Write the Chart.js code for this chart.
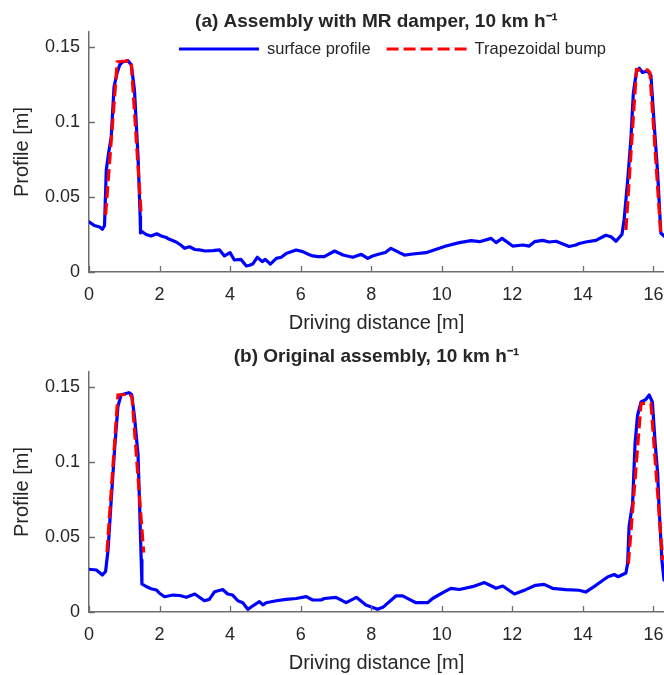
<!DOCTYPE html>
<html>
<head>
<meta charset="utf-8">
<script src="https://cdn.jsdelivr.net/npm/chart.js@4"></script>
<style>
  html, body { margin: 0; padding: 0; background: #ffffff; }
  body { width: 664px; height: 675px; overflow: hidden; position: relative; }
  canvas { position: absolute; left: 0; }
</style>
</head>
<body>
<canvas id="chartA" width="664" height="338" style="top:0px"></canvas>
<canvas id="chartB" width="664" height="337" style="top:338px"></canvas>
<script>
// ---------- texts ----------
const titleA = '(a) Assembly with MR damper, 10 km h\u207B\u00B9';
const titleB = '(b) Original assembly, 10 km h\u207B\u00B9';
const seriesNames = ['surface profile', 'Trapezoidal bump'];
const xLabel = 'Driving distance [m]';
const yLabel = 'Profile [m]';

// ---------- ticks ----------
const xTicks = [0, 2, 4, 6, 8, 10, 12, 14, 16];
const xTickLabels = ['0', '2', '4', '6', '8', '10', '12', '14', '16'];
const yTicks = [0, 0.05, 0.1, 0.15];
const yTickLabels = ['0', '0.05', '0.1', '0.15'];
const xMin = 0, xMax = 16.3, yMin = 0, yMax = 0.16;

// ---------- (a) Assembly with MR damper ----------
const profileA_x = [0, 0.15, 0.3, 0.38, 0.44, 0.49, 0.56, 0.63, 0.71, 0.80, 0.87, 0.95, 1.03, 1.10, 1.20, 1.29, 1.39, 1.45, 1.46, 1.50, 1.62, 1.76, 1.92, 2.05, 2.19, 2.28, 2.47, 2.6, 2.71, 2.85, 3.0, 3.13, 3.3, 3.51, 3.70, 3.84, 4.0, 4.12, 4.31, 4.46, 4.55, 4.64, 4.77, 4.91, 5.0, 5.14, 5.31, 5.45, 5.59, 5.87, 6.06, 6.2, 6.34, 6.5, 6.67, 6.96, 7.2, 7.48, 7.72, 7.90, 8.04, 8.23, 8.4, 8.56, 8.8, 8.94, 9.18, 9.55, 9.93, 10.12, 10.5, 10.83, 11.07, 11.40, 11.54, 11.71, 12.01, 12.3, 12.48, 12.63, 12.86, 13.05, 13.24, 13.61, 13.8, 13.9, 14.08, 14.37, 14.65, 14.80, 14.94, 15.11, 15.17, 15.27, 15.36, 15.43, 15.52, 15.6, 15.69, 15.83, 15.93, 16.02, 16.12, 16.21, 16.3];
const profileA_y = [0.0335, 0.031, 0.030, 0.0285, 0.031, 0.068, 0.080, 0.090, 0.1235, 0.133, 0.138, 0.140, 0.1405, 0.141, 0.138, 0.121, 0.077, 0.037, 0.026, 0.027, 0.025, 0.024, 0.0255, 0.024, 0.023, 0.0218, 0.020, 0.018, 0.0158, 0.0168, 0.015, 0.0147, 0.014, 0.0142, 0.0147, 0.0107, 0.0129, 0.008, 0.0084, 0.004, 0.0045, 0.0053, 0.0098, 0.0069, 0.0084, 0.0053, 0.0091, 0.0098, 0.0124, 0.0147, 0.0136, 0.012, 0.0107, 0.0103, 0.0102, 0.014, 0.0113, 0.0098, 0.0118, 0.0091, 0.0107, 0.012, 0.013, 0.0158, 0.0129, 0.0113, 0.012, 0.0129, 0.0158, 0.0173, 0.0196, 0.0209, 0.0202, 0.0224, 0.0196, 0.0224, 0.0173, 0.018, 0.0173, 0.0202, 0.0211, 0.020, 0.0205, 0.0170, 0.018, 0.019, 0.0200, 0.0211, 0.0245, 0.0235, 0.0205, 0.0252, 0.035, 0.061, 0.088, 0.119, 0.1336, 0.1358, 0.133, 0.134, 0.131, 0.099, 0.066, 0.026, 0.024];
const bumpA_x = [0.47, 0.80, 0.95, 1.05, 1.15, 1.20, 1.48, 8.0, 15.22, 15.52, 15.65, 15.83, 15.90, 16.21];
const bumpA_y = [0.038, 0.140, 0.1405, 0.1405, 0.1413, 0.139, 0.038, null, 0.028, 0.135, 0.1345, 0.1347, 0.133, 0.0247];

// ---------- (b) Original assembly ----------
const profileB_x = [0, 0.21, 0.38, 0.47, 0.54, 0.63, 0.73, 0.82, 0.91, 1.02, 1.13, 1.21, 1.29, 1.39, 1.43, 1.48, 1.50, 1.62, 1.76, 1.91, 2.0, 2.14, 2.38, 2.57, 2.76, 3.0, 3.27, 3.41, 3.56, 3.79, 3.93, 4.07, 4.22, 4.36, 4.50, 4.64, 4.83, 4.93, 5.02, 5.31, 5.59, 5.87, 6.16, 6.34, 6.58, 6.67, 7.0, 7.29, 7.58, 7.85, 8.18, 8.33, 8.70, 8.89, 9.08, 9.27, 9.60, 9.74, 10.03, 10.26, 10.5, 10.87, 11.21, 11.35, 11.54, 11.73, 12.06, 12.38, 12.66, 12.9, 13.14, 13.51, 13.89, 14.08, 14.37, 14.70, 14.89, 15.0, 15.22, 15.27, 15.31, 15.41, 15.48, 15.55, 15.65, 15.79, 15.88, 15.97, 16.05, 16.12, 16.16, 16.24, 16.3];
const profileB_y = [0.0285, 0.028, 0.0247, 0.027, 0.0413, 0.0747, 0.110, 0.137, 0.1447, 0.1455, 0.1462, 0.145, 0.130, 0.105, 0.0747, 0.0347, 0.0187, 0.017, 0.0155, 0.0147, 0.0125, 0.0102, 0.0113, 0.0110, 0.0098, 0.012, 0.0075, 0.0084, 0.0135, 0.015, 0.012, 0.0113, 0.0075, 0.0062, 0.0018, 0.004, 0.0069, 0.0047, 0.0062, 0.0075, 0.0084, 0.009, 0.0102, 0.008, 0.008, 0.009, 0.0098, 0.0062, 0.0098, 0.0047, 0.0018, 0.0031, 0.0107, 0.0107, 0.0084, 0.0062, 0.0062, 0.009, 0.0129, 0.0158, 0.015, 0.0169, 0.0196, 0.018, 0.0158, 0.0173, 0.012, 0.0149, 0.0178, 0.0184, 0.0158, 0.0149, 0.0145, 0.0133, 0.0178, 0.0233, 0.025, 0.0235, 0.026, 0.0325, 0.057, 0.0724, 0.1124, 0.131, 0.140, 0.1418, 0.1447, 0.140, 0.1124, 0.0924, 0.070, 0.0347, 0.0213];
const bumpB_x = [0.51, 0.82, 1.0, 1.15, 1.22, 1.55, 8.0, 15.29, 15.65, 15.93, 16.26];
const bumpB_y = [0.040, 0.1447, 0.145, 0.1456, 0.143, 0.0396, null, 0.032, 0.139, 0.139, 0.0347];

// ---------- styles ----------
const FONT = "'Liberation Sans', Arial, Helvetica, sans-serif";
const TEXT = '#262626';
const AXIS = '#6e6e6e';
const BLUE = '#0000ff';
const RED = '#ff0000';

const inwardTicks = {
  id: 'inwardTicks',
  afterDraw(chart) {
    const { ctx, chartArea: a, scales } = chart;
    const x = scales.x, y = scales.y;
    ctx.save();
    ctx.strokeStyle = AXIS;
    ctx.lineWidth = 1.3;
    ctx.beginPath();
    x.ticks.forEach(t => {
      const p = Math.round(x.getPixelForValue(t.value)) + 0.5;
      ctx.moveTo(p, a.bottom); ctx.lineTo(p, a.bottom - 6);
    });
    y.ticks.forEach(t => {
      const p = Math.round(y.getPixelForValue(t.value)) + 0.5;
      ctx.moveTo(a.left, p); ctx.lineTo(a.left + 6, p);
    });
    ctx.stroke();
    ctx.restore();
  }
};

const insideLegend = {
  id: 'insideLegend',
  afterDraw(chart, args, opts) {
    if (!opts || !opts.display) return;
    const { ctx, chartArea: a } = chart;
    const ds = chart.data.datasets;
    const sample = 80, gapText = 8, gapItem = 16;
    ctx.save();
    ctx.font = '16.5px ' + FONT;
    ctx.textBaseline = 'middle';
    const widths = ds.map(d => ctx.measureText(d.label).width);
    let total = 0;
    widths.forEach((w, i) => { total += sample + gapText + w + (i < widths.length - 1 ? gapItem : 0); });
    let cx = (a.left + a.right) / 2 + opts.offsetX - total / 2;
    const cy = a.top + opts.offsetY;
    ds.forEach((d, i) => {
      ctx.beginPath();
      ctx.strokeStyle = d.borderColor;
      ctx.lineWidth = d.borderWidth;
      ctx.setLineDash(d.borderDash || []);
      ctx.moveTo(cx, cy); ctx.lineTo(cx + sample, cy);
      ctx.stroke();
      ctx.setLineDash([]);
      ctx.fillStyle = TEXT;
      ctx.fillText(d.label, cx + sample + gapText, cy);
      cx += sample + gapText + widths[i] + gapItem;
    });
    ctx.restore();
  }
};

function makeChart(id, title, px, py, bx, by, geo, showLegend) {
  const prof = px.map((x, i) => ({ x: x, y: py[i] }));
  const bump = bx.map((x, i) => ({ x: x, y: by[i] }));
  return new Chart(document.getElementById(id), {
    type: 'line',
    data: {
      datasets: [
        { label: seriesNames[0], data: prof, borderColor: BLUE, backgroundColor: BLUE, borderWidth: 3.2,
          pointRadius: 0, tension: 0, order: 1, borderJoinStyle: 'round', borderCapStyle: 'round' },
        { label: seriesNames[1], data: bump, borderColor: RED, backgroundColor: RED, borderWidth: 3.2,
          borderDash: [12, 5], pointRadius: 0, tension: 0, order: 0, spanGaps: false }
      ]
    },
    options: {
      responsive: false,
      animation: false,
      devicePixelRatio: 1,
      layout: { padding: 0 },
      events: [],
      plugins: {
        legend: { display: false },
        tooltip: { enabled: false },
        title: {
          display: true, text: title, color: TEXT, fullSize: false,
          font: { family: FONT, size: 19, weight: 'bold', lineHeight: 1 },
          padding: { top: geo.tp, bottom: geo.tb }
        },
        insideLegend: { display: showLegend, offsetX: 16, offsetY: 17 }
      },
      scales: {
        x: {
          type: 'linear', min: xMin, max: xMax,
          afterBuildTicks: s => { s.ticks = xTicks.map(v => ({ value: v })); },
          ticks: { color: TEXT, font: { family: FONT, size: 18 }, padding: 12, maxRotation: 0, autoSkip: false,
                   callback: (v, i) => xTickLabels[i] },
          grid: { display: true, drawOnChartArea: false, drawTicks: false },
          border: { display: true, color: AXIS, width: 1.5 },
          title: { display: true, text: xLabel, color: TEXT, font: { family: FONT, size: 20 },
                   padding: { top: 0, bottom: geo.xtb } },
          afterFit: s => { s.height = geo.xh; s.paddingLeft = 0; s.paddingRight = 0; }
        },
        y: {
          type: 'linear', min: yMin, max: yMax,
          afterBuildTicks: s => { s.ticks = yTicks.map(v => ({ value: v })); },
          ticks: { color: TEXT, font: { family: FONT, size: 18 }, padding: 9, autoSkip: false,
                   callback: (v, i) => yTickLabels[i] },
          grid: { display: true, drawOnChartArea: false, drawTicks: false },
          border: { display: true, color: AXIS, width: 1.5 },
          title: { display: true, text: yLabel, color: TEXT, font: { family: FONT, size: 20 },
                   padding: { top: 10, bottom: 0 } },
          afterFit: s => { s.width = 89; s.paddingTop = 0; s.paddingBottom = 0; }
        }
      }
    },
    plugins: [inwardTicks, insideLegend]
  });
}

makeChart('chartA', titleA, profileA_x, profileA_y, bumpA_x, bumpA_y,
  { tp: 12.5, tb: 0.5, xh: 66, xtb: 3 }, true);
makeChart('chartB', titleB, profileB_x, profileB_y, bumpB_x, bumpB_y,
  { tp: 9.5, tb: 5.5, xh: 63, xtb: 0 }, false);
</script>
</body>
</html>
